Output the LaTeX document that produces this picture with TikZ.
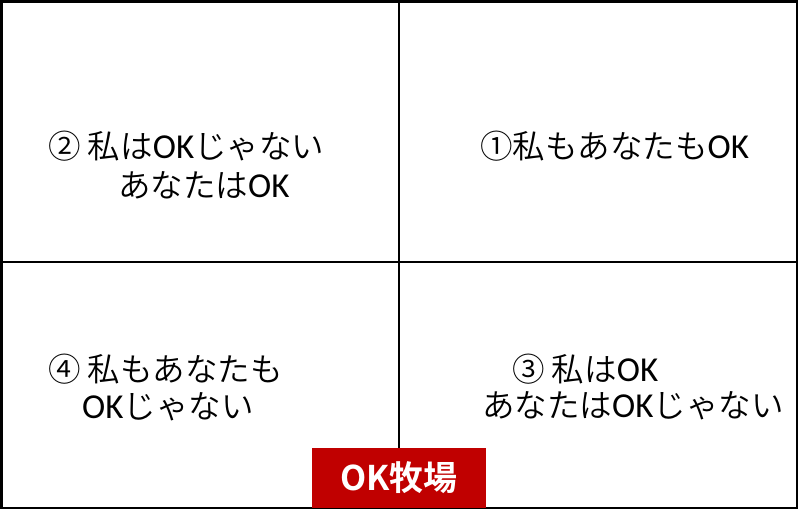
\documentclass[tikz,border=0pt]{standalone}
\usepackage{fontspec}
\newfontfamily\jp{Noto Sans CJK JP DemiLight}
\newfontfamily\jpb{Noto Sans CJK JP Bold}
\newfontfamily\lat{Carlito}
\definecolor{okred}{HTML}{C00000}
\newcommand{\OKtxt}{{\lat\fontsize{35}{35}\selectfont OK}}
\tikzset{
  frameline/.style={line width=2.8pt, black},
  label/.style={anchor=base west, inner sep=0pt, font=\jp\fontsize{32.5}{32.5}\selectfont},
  banner/.style={fill=okred, draw=none, minimum width=174pt, minimum height=60pt, inner sep=0pt,
    text=white, font=\jpb\fontsize{34}{34}\selectfont}
}
\begin{document}
\begin{tikzpicture}[x=1pt,y=-1pt]
\useasboundingbox (0,0) rectangle (800,523);
\fill[white] (0,0) rectangle (800,523);
\coordinate (tl) at (1.5,1.5);
\coordinate (br) at (797,508);
\coordinate (vt) at (399,1.5);
\coordinate (vb) at (399,508);
\coordinate (hl) at (1.5,262);
\coordinate (hr) at (797,262);
\draw[frameline] (tl) rectangle (br);
\draw[frameline] (vt) -- (vb);
\draw[frameline] (hl) -- (hr);
\node[label] (q2a) at (48,158) {② 私は\OKtxt じゃない};
\node[label] (q2b) at (118,197) {あなたは\OKtxt};
\node[label] (q1) at (480,158) {①私もあなたも\OKtxt};
\node[label] (q4a) at (48,381) {④ 私もあなたも};
\node[label] (q4b) at (82,418) {\OKtxt じゃない};
\node[label] (q3a) at (512,381) {③ 私は\OKtxt};
\node[label] (q3b) at (482,417) {あなたは\OKtxt じゃない};
\node[banner] (ban) at (399,478) {OK牧場};
\end{tikzpicture}
\end{document}
